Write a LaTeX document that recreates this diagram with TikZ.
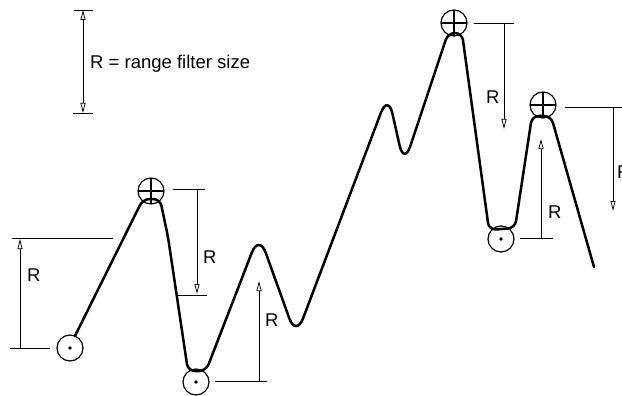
\documentclass[tikz,border=0pt]{standalone}
\usepackage{fontspec}
\setmainfont{Liberation Sans}
\usetikzlibrary{arrows.meta}
\begin{document}
\begin{tikzpicture}[x=1pt,y=-1pt,
  curve/.style={line width=2.5pt,line join=round,line cap=round},
  dim/.style={line width=0.75pt},
  dimarrow/.style={line width=0.75pt,-{Triangle[open,length=10pt,width=5pt]}},
  maxmark/.style={circle,draw,line width=1.2pt,minimum size=26pt,inner sep=0pt,
    path picture={\draw[line width=1.1pt] (path picture bounding box.north) -- (path picture bounding box.south)
      (path picture bounding box.west) -- (path picture bounding box.east);}},
  minmark/.style={circle,draw,line width=1.2pt,minimum size=26pt,inner sep=0pt,
    path picture={\fill (path picture bounding box.center) circle (1.9pt);}},
  lbl/.style={font=\fontsize{18.5}{18.5}\selectfont,inner sep=0pt}]
\useasboundingbox (0,0) rectangle (622,396);
\clip (0,0) rectangle (622,396);
% legend
\coordinate (lgt) at (83,10);
\coordinate (lgb) at (83,113);
\draw[dim] (74,10) -- (93,10);
\draw[dim] (73,113) -- (93,113);
\draw[dim,{Triangle[open,length=10pt,width=5pt]}-{Triangle[open,length=10pt,width=5pt]}] (lgt) -- (lgb);
\node[lbl,anchor=west] (legend) at (90,64) {R = range filter size};
% curve
\draw[curve] (75,336) [rounded corners=7pt] -- (143,199) -- (160,199) -- (168,237) -- (188,371) -- (206,371)
  [rounded corners=20pt] -- (259,234) -- (296,337) -- (388,94) -- (404,165)
  [rounded corners=7pt] -- (448,33) -- (462,33) -- (489,230) -- (515,228)
  -- (532,116) -- (551,116) -- (594,267);
% markers
\node[minmark] (v1) at (70,348) {};
\node[maxmark] (p1) at (151,191) {};
\node[minmark] (v2) at (196,382) {};
\node[maxmark] (p2) at (454,23) {};
\node[minmark] (v3) at (501,239) {};
\node[maxmark] (p3) at (543,105) {};
% dimension 1 (left, up)
\draw[dim] (12,238) -- (113,238);
\draw[dim] (10,348) -- (50,348);
\coordinate (d1b) at (20,348);
\coordinate (d1t) at (20,239);
\draw[dimarrow] (d1b) -- (d1t);
\node[lbl,anchor=west] (r1) at (27,275) {R};
% dimension 2 (down from p1)
\draw[dim] (173,189) -- (205,189);
\draw[dim] (178,295) -- (207,295);
\coordinate (d2t) at (197,189);
\coordinate (d2b) at (197,294);
\draw[dimarrow] (d2t) -- (d2b);
\node[lbl,anchor=west] (r2) at (203,257) {R};
% dimension 3 (up from v2)
\draw[dim] (215,381) -- (267,381);
\coordinate (d3b) at (259,381);
\coordinate (d3t) at (259,281);
\draw[dimarrow] (d3b) -- (d3t);
\node[lbl,anchor=west] (r3) at (265,320) {R};
% dimension 4 (down from p2)
\draw[dim] (474,23) -- (514,23);
\coordinate (d4t) at (504,23);
\coordinate (d4b) at (504,129);
\draw[dimarrow] (d4t) -- (d4b);
\node[lbl,anchor=west] (r4) at (486,97) {R};
% dimension 5 (up from v3)
\draw[dim] (520,238) -- (553,238);
\coordinate (d5b) at (541,238);
\coordinate (d5t) at (541,139);
\draw[dimarrow] (d5b) -- (d5t);
\node[lbl,anchor=west] (r5) at (548,212) {R};
% dimension 6 (right edge, down from p3)
\draw[dim] (565,107) -- (622,107);
\coordinate (d6t) at (613,107);
\coordinate (d6b) at (613,211);
\draw[dimarrow] (d6t) -- (d6b);
\node[lbl,anchor=west] (r6) at (617,172) {R};
\end{tikzpicture}
\end{document}
